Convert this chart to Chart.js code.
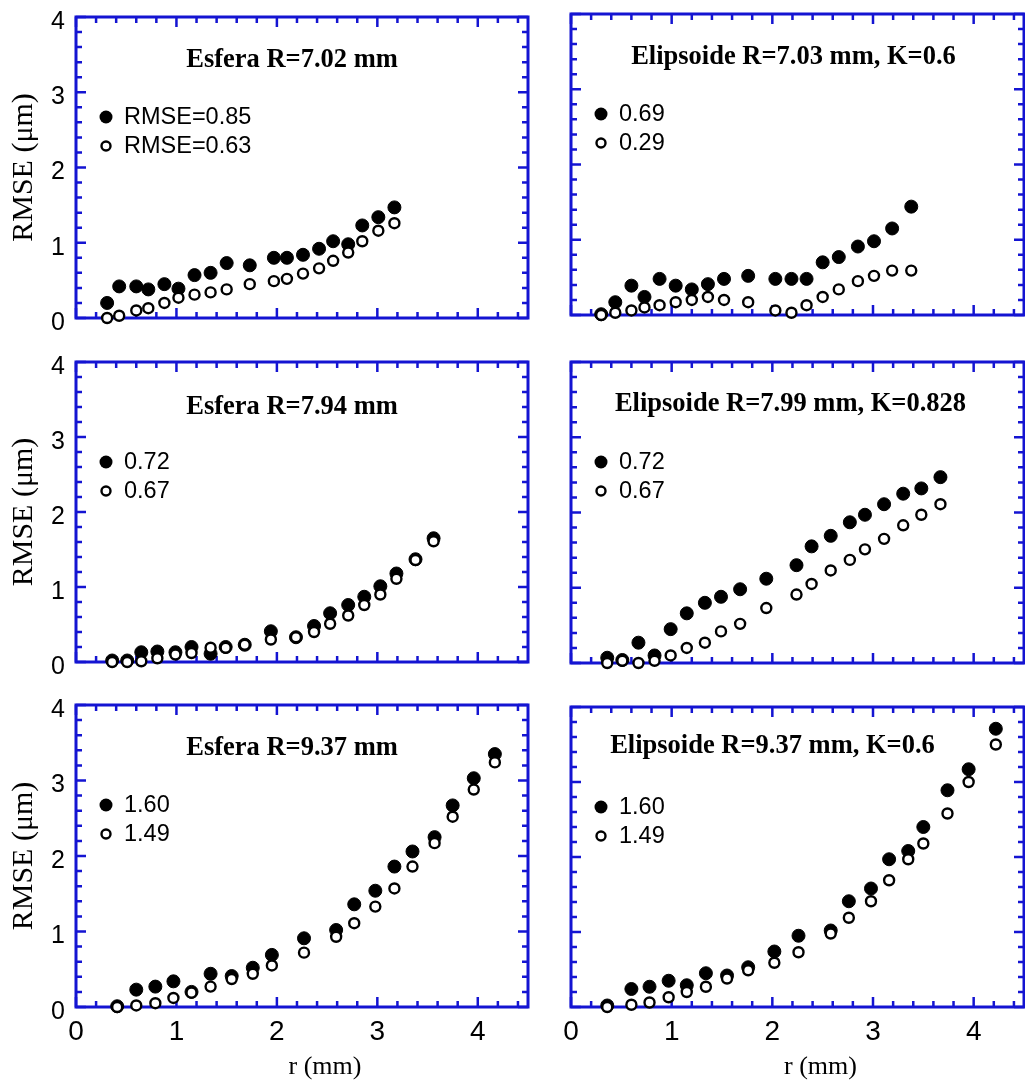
<!DOCTYPE html>
<html>
<head>
<meta charset="utf-8">
<script src="https://cdn.jsdelivr.net/npm/chart.js@4.4.0/dist/chart.umd.min.js"></script>
<style>
    body { margin: 0; background: #fff; }
    #wrap { position: relative; width: 1025px; height: 1080px; overflow: hidden; }
    #wrap canvas { position: absolute; }
</style>
</head>
<body>
<div id="wrap"></div>
<script>
// RMSE vs r curves
// Esfera R=7.02 mm
const rEsf702 = [0.31, 0.43, 0.60, 0.72, 0.88, 1.02, 1.18, 1.34, 1.50, 1.73, 1.97, 2.10, 2.26, 2.42, 2.56, 2.71, 2.85, 3.01, 3.17];
const fullEsf702 = [0.20, 0.42, 0.42, 0.38, 0.45, 0.39, 0.57, 0.60, 0.73, 0.70, 0.80, 0.80, 0.84, 0.92, 1.02, 0.98, 1.23, 1.34, 1.47];
const openEsf702 = [0.00, 0.03, 0.10, 0.13, 0.20, 0.27, 0.31, 0.34, 0.38, 0.45, 0.49, 0.52, 0.59, 0.66, 0.76, 0.87, 1.02, 1.16, 1.26];

// Elipsoide R=7.03 mm, K=0.6
const rEli703 = [0.30, 0.44, 0.60, 0.73, 0.88, 1.04, 1.20, 1.36, 1.52, 1.76, 2.03, 2.19, 2.34, 2.50, 2.66, 2.85, 3.01, 3.19, 3.38];
const fullEli703 = [0.01, 0.17, 0.39, 0.24, 0.48, 0.39, 0.34, 0.41, 0.48, 0.52, 0.48, 0.48, 0.48, 0.70, 0.77, 0.91, 0.98, 1.15, 1.44];
const openEli703 = [0.00, 0.03, 0.06, 0.10, 0.13, 0.17, 0.20, 0.24, 0.20, 0.17, 0.06, 0.03, 0.13, 0.24, 0.34, 0.45, 0.52, 0.59, 0.59];

// Esfera R=7.94 mm
const rEsf794 = [0.36, 0.51, 0.65, 0.81, 0.99, 1.15, 1.34, 1.49, 1.68, 1.94, 2.19, 2.37, 2.53, 2.71, 2.87, 3.03, 3.19, 3.38, 3.56];
const fullEsf794 = [0.02, 0.02, 0.13, 0.14, 0.13, 0.20, 0.11, 0.20, 0.23, 0.41, 0.33, 0.48, 0.65, 0.76, 0.87, 1.01, 1.18, 1.37, 1.65];
const openEsf794 = [0.00, 0.00, 0.01, 0.05, 0.10, 0.12, 0.19, 0.19, 0.23, 0.30, 0.33, 0.40, 0.51, 0.62, 0.76, 0.90, 1.11, 1.36, 1.61];

// Elipsoide R=7.99 mm, K=0.828
const rEli799 = [0.36, 0.51, 0.67, 0.83, 0.99, 1.15, 1.33, 1.49, 1.68, 1.94, 2.24, 2.39, 2.58, 2.77, 2.92, 3.11, 3.30, 3.48, 3.67];
const fullEli799 = [0.07, 0.04, 0.27, 0.10, 0.45, 0.66, 0.80, 0.88, 0.98, 1.12, 1.30, 1.55, 1.69, 1.87, 1.97, 2.11, 2.25, 2.32, 2.47];
const openEli799 = [0.00, 0.03, 0.00, 0.03, 0.10, 0.20, 0.27, 0.42, 0.52, 0.73, 0.91, 1.05, 1.23, 1.37, 1.51, 1.65, 1.83, 1.97, 2.11];

// Esfera R=9.37 mm
const rEsf937 = [0.41, 0.60, 0.79, 0.97, 1.15, 1.34, 1.55, 1.76, 1.95, 2.27, 2.59, 2.77, 2.98, 3.17, 3.35, 3.57, 3.75, 3.96, 4.17];
const fullEsf937 = [0.01, 0.23, 0.27, 0.34, 0.20, 0.44, 0.41, 0.52, 0.69, 0.91, 1.02, 1.36, 1.54, 1.86, 2.06, 2.25, 2.67, 3.03, 3.35];
const openEsf937 = [0.00, 0.02, 0.05, 0.12, 0.19, 0.27, 0.37, 0.44, 0.55, 0.72, 0.93, 1.11, 1.33, 1.57, 1.86, 2.17, 2.52, 2.88, 3.24];

// Elipsoide R=9.37 mm, K=0.6
const rEli937 = [0.36, 0.60, 0.78, 0.97, 1.15, 1.34, 1.55, 1.76, 2.02, 2.26, 2.58, 2.76, 2.98, 3.16, 3.35, 3.50, 3.74, 3.95, 4.22];
const fullEli937 = [0.02, 0.24, 0.27, 0.35, 0.29, 0.45, 0.42, 0.53, 0.74, 0.95, 1.02, 1.41, 1.58, 1.97, 2.08, 2.40, 2.89, 3.17, 3.71];
const openEli937 = [0.00, 0.03, 0.06, 0.13, 0.20, 0.27, 0.38, 0.49, 0.59, 0.73, 0.98, 1.19, 1.41, 1.69, 1.97, 2.18, 2.58, 3.00, 3.50];

const panelTitles = ['Esfera R=7.02 mm', 'Elipsoide R=7.03 mm, K=0.6', 'Esfera R=7.94 mm',
    'Elipsoide R=7.99 mm, K=0.828', 'Esfera R=9.37 mm', 'Elipsoide R=9.37 mm, K=0.6'];
const fullLabels = ['RMSE=0.85', '0.69', '0.72', '0.72', '1.60', '1.60'];
const openLabels = ['RMSE=0.63', '0.29', '0.67', '0.67', '1.49', '1.49'];
const xRange = [0, 4.5];
const yRange = [0, 4];
const xTitle = 'r (mm)';
const yTitle = 'RMSE (\u03bcm)';

const series = [
    [rEsf702, fullEsf702, openEsf702],
    [rEli703, fullEli703, openEli703],
    [rEsf794, fullEsf794, openEsf794],
    [rEli799, fullEli799, openEli799],
    [rEsf937, fullEsf937, openEsf937],
    [rEli937, fullEli937, openEli937]
];

// canvas boxes and plot areas (page pixels)
const boxes = [
    { x: 0,   y: 0,   w: 540, h: 340, a: { l: 76,  t: 17,  r: 528,  b: 318 },  tdx: -10, tdy: 43 },
    { x: 545, y: 0,   w: 480, h: 340, a: { l: 571, t: 14,  r: 1024, b: 315 },  tdx: -4,  tdy: 43 },
    { x: 0,   y: 340, w: 540, h: 340, a: { l: 76,  t: 362, r: 528,  b: 662 },  tdx: -10, tdy: 45 },
    { x: 545, y: 340, w: 480, h: 340, a: { l: 571, t: 362, r: 1024, b: 663 },  tdx: -7,  tdy: 42 },
    { x: 0,   y: 680, w: 540, h: 400, a: { l: 76,  t: 705, r: 528,  b: 1007 }, tdx: -10, tdy: 43 },
    { x: 545, y: 680, w: 480, h: 400, a: { l: 571, t: 707, r: 1024, b: 1007 }, tdx: -25, tdy: 39 }
];

const SANS = "'Liberation Sans', Arial, sans-serif";
const SERIF = "'Liberation Serif', 'Times New Roman', serif";
const AXIS_BLUE = '#1414d2';

// major ticks come from the scale, minor ones split each step in five
function tickSets(scale) {
    const major = scale.ticks.map(t => t.value);
    const step = (major[1] - major[0]) / 5;
    const minor = [];
    for (let i = 1; scale.min + i * step < scale.max - 1e-6; i++) {
        if (i % 5) minor.push(scale.min + i * step);
    }
    return { major, minor };
}

// keep tick labels from pushing the plot area around
function noScalePadding(s) {
    s.paddingTop = 0;
    s.paddingBottom = 0;
    s.paddingLeft = 0;
    s.paddingRight = 0;
}

const framePlugin = {
    id: 'frame',
    beforeDatasetsDraw(chart) {
        const { ctx, chartArea: a, scales: { x, y } } = chart;
        const xt = tickSets(x), yt = tickSets(y);
        ctx.save();
        ctx.strokeStyle = AXIS_BLUE;
        ctx.lineWidth = 2.5;
        ctx.beginPath();
        const xMarks = (vals, len) => vals.forEach(v => {
            const p = x.getPixelForValue(v);
            ctx.moveTo(p, a.bottom); ctx.lineTo(p, a.bottom - len);
            ctx.moveTo(p, a.top); ctx.lineTo(p, a.top + len);
        });
        const yMarks = (vals, len) => vals.forEach(v => {
            const p = y.getPixelForValue(v);
            ctx.moveTo(a.left, p); ctx.lineTo(a.left + len, p);
            ctx.moveTo(a.right, p); ctx.lineTo(a.right - len, p);
        });
        xMarks(xt.major, 10); xMarks(xt.minor, 6);
        yMarks(yt.major, 10); yMarks(yt.minor, 6);
        ctx.stroke();
        ctx.lineWidth = 3;
        ctx.strokeRect(a.left, a.top, a.right - a.left, a.bottom - a.top);
        ctx.restore();
    },
    afterDraw(chart, args, opts) {
        const { ctx, chartArea: a } = chart;
        ctx.save();
        ctx.fillStyle = '#000';
        ctx.textBaseline = 'middle';

        // panel title
        ctx.font = 'bold 26.5px ' + SERIF;
        ctx.textAlign = 'center';
        ctx.fillText(opts.title, (a.left + a.right) / 2 + opts.dx, a.top + opts.dy);

        // legend, top left of the plot
        ctx.textAlign = 'left';
        ctx.font = '23.5px ' + SANS;
        chart.data.datasets.slice().sort((p, q) => p.legendRow - q.legendRow).forEach((ds, i) => {
            const mx = a.left + 30, my = a.top + 100 + i * 29;
            ctx.beginPath();
            if (ds.hollow) {
                ctx.arc(mx, my, 4.5, 0, Math.PI * 2);
                ctx.fillStyle = '#fff';
                ctx.fill();
                ctx.lineWidth = 2.4;
                ctx.strokeStyle = '#000';
                ctx.stroke();
            } else {
                ctx.arc(mx, my, 6.5, 0, Math.PI * 2);
                ctx.fillStyle = '#000';
                ctx.fill();
            }
            ctx.fillStyle = '#000';
            ctx.fillText(ds.label, mx + 18, my + 1);
        });

        // x axis title, bottom row only
        if (opts.xTitle) {
            ctx.font = '26px ' + SERIF;
            ctx.textAlign = 'center';
            ctx.fillText(opts.xTitle, (a.left + a.right) / 2 + 23, a.bottom + 60);
        }
        ctx.restore();
    }
};

const wrap = document.getElementById('wrap');

series.forEach(([r, full, open], i) => {
    const b = boxes[i];
    const leftCol = i % 2 === 0;
    const bottomRow = i >= 4;
    const canvas = document.createElement('canvas');
    canvas.width = b.w;
    canvas.height = b.h;
    canvas.style.left = b.x + 'px';
    canvas.style.top = b.y + 'px';
    wrap.appendChild(canvas);

    const yWidth = b.a.l - b.x;
    const xHeight = b.y + b.h - b.a.b;

    new Chart(canvas.getContext('2d'), {
        type: 'scatter',
        data: {
            datasets: [
                {
                    label: openLabels[i],
                    hollow: true,
                    legendRow: 1,
                    data: r.map((v, k) => ({ x: v, y: open[k] })),
                    pointRadius: 5,
                    pointBorderWidth: 2.4,
                    pointBackgroundColor: '#fff',
                    pointBorderColor: '#000',
                    order: 0,
                    clip: false
                },
                {
                    label: fullLabels[i],
                    hollow: false,
                    legendRow: 0,
                    data: r.map((v, k) => ({ x: v, y: full[k] })),
                    pointRadius: 6.5,
                    pointBorderWidth: 1,
                    pointBackgroundColor: '#000',
                    pointBorderColor: '#000',
                    order: 1,
                    clip: false
                }
            ]
        },
        options: {
            responsive: false,
            animation: false,
            layout: {
                autoPadding: false,
                padding: { top: b.a.t - b.y, right: b.x + b.w - b.a.r, bottom: 0, left: 0 }
            },
            scales: {
                x: {
                    type: 'linear',
                    min: xRange[0],
                    max: xRange[1],
                    afterFit: s => { s.height = xHeight; noScalePadding(s); },
                    grid: { display: false, drawTicks: false },
                    border: { display: false },
                    ticks: {
                        display: bottomRow,
                        stepSize: 1,
                        includeBounds: false,
                        padding: 8,
                        color: '#000',
                        font: { family: SANS, size: 28 }
                    }
                },
                y: {
                    type: 'linear',
                    min: yRange[0],
                    max: yRange[1],
                    afterFit: s => { s.width = yWidth; noScalePadding(s); },
                    grid: { display: false, drawTicks: false },
                    border: { display: false },
                    ticks: {
                        display: leftCol,
                        stepSize: 1,
                        padding: 11,
                        labelOffset: 5,
                        color: '#000',
                        font: { family: SANS, size: 25 }
                    },
                    title: {
                        display: leftCol,
                        text: yTitle,
                        color: '#000',
                        padding: { top: 6, bottom: 0 },
                        font: { family: SERIF, size: 30 }
                    }
                }
            },
            plugins: {
                legend: { display: false },
                tooltip: { enabled: false },
                frame: {
                    title: panelTitles[i],
                    dx: b.tdx,
                    dy: b.tdy,
                    xTitle: bottomRow ? xTitle : null
                }
            }
        },
        plugins: [framePlugin]
    });
});
</script>
</body>
</html>
